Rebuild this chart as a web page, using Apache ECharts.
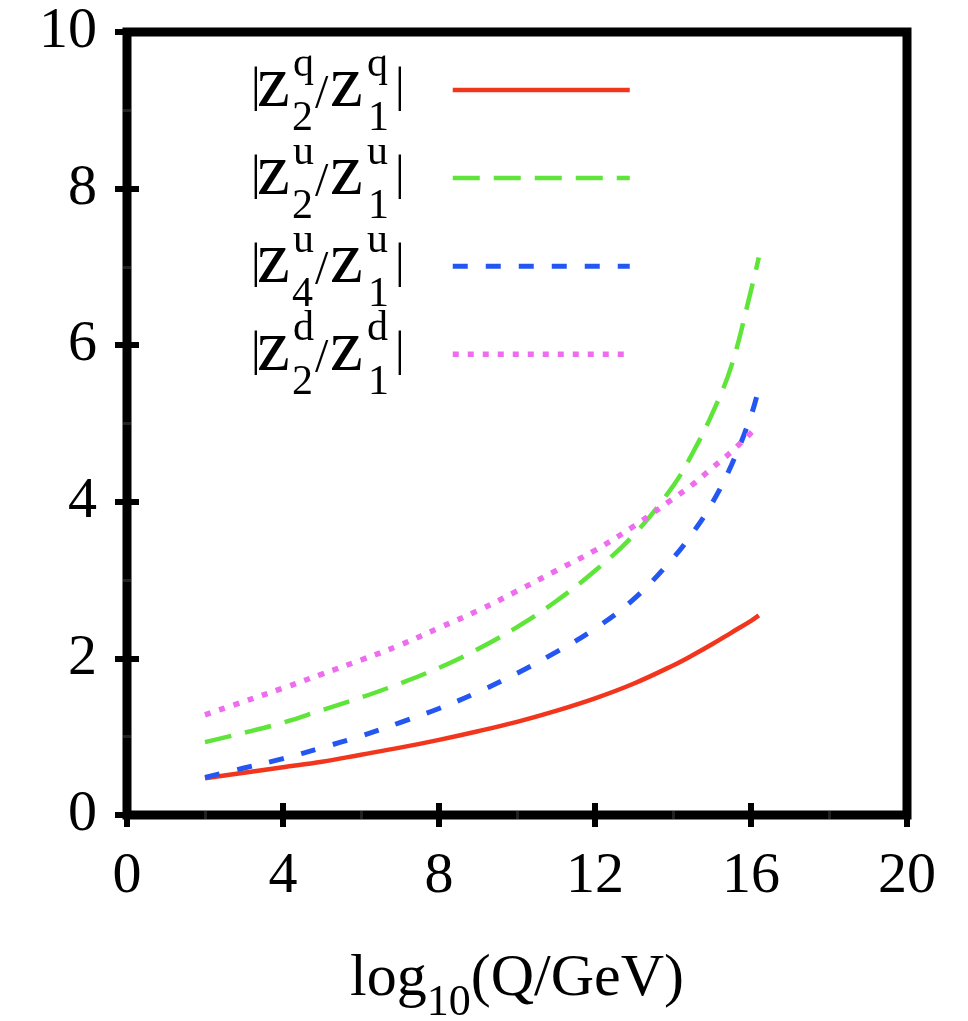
<!DOCTYPE html>
<html>
<head>
<meta charset="utf-8">
<script src="https://cdn.jsdelivr.net/npm/echarts@6/dist/echarts.min.js"></script>
<style>html,body{margin:0;padding:0;background:#fff}#c{width:968px;height:1021px}</style>
</head>
<body>
<div id="c"></div>
<script>
// ---- data ----
var xs        = [2, 3, 4, 5, 6, 7, 8, 9, 10, 11, 12, 13, 14, 14.5, 15, 15.5, 16, 16.2];
var zq21      = [0.47, 0.54, 0.61, 0.68, 0.77, 0.86, 0.96, 1.07, 1.19, 1.33, 1.49, 1.68, 1.91, 2.04, 2.18, 2.33, 2.48, 2.55];
var zu21      = [0.93, 1.05, 1.18, 1.34, 1.50, 1.68, 1.88, 2.12, 2.40, 2.73, 3.12, 3.58, 4.20, 4.62, 5.12, 5.74, 6.70, 7.12];
var zu41      = [0.48, 0.60, 0.72, 0.86, 1.01, 1.18, 1.36, 1.57, 1.81, 2.08, 2.38, 2.76, 3.28, 3.60, 3.98, 4.47, 5.10, 5.45];
var zd21      = [1.28, 1.45, 1.62, 1.80, 1.98, 2.17, 2.39, 2.61, 2.86, 3.12, 3.38, 3.69, 4.04, 4.22, 4.43, 4.64, 4.88, 4.97];
var xTicks    = [0, 4, 8, 12, 16, 20];
var yTicks    = [0, 2, 4, 6, 8, 10];
var seriesNames = ['|z2q/z1q|', '|z2u/z1u|', '|z4u/z1u|', '|z2d/z1d|'];
// legend text pieces: [supLeft, subLeft, supRight, subRight]
var legendParts = [['q','2','q','1'], ['u','2','u','1'], ['u','4','u','1'], ['d','2','d','1']];
var xTitle    = ['log', '10', '(Q/GeV)'];

function pairs(ys){ return xs.map(function(x,i){ return [x, ys[i]]; }); }

var FONT = '"Liberation Serif","Times New Roman",serif';
var colors = ['#f2361e', '#5fe43a', '#2457f2', '#ee6cee'];
var dashes = ['solid', [27, 14], [15, 18], [6, 9]];
var widths = [4.5, 4.5, 5, 5.5];

var rowC = [90, 178, 266, 354];

function txt(str, x, base, size){
  return { type:'text', silent:true, z:100,
    style:{ text:str, x:x, y: base - 0.3375*size, font: size+'px '+FONT,
            fill:'#000', align:'left', verticalAlign:'middle' } };
}

var graphics = [];
legendParts.forEach(function(p, i){
  var c = rowC[i];
  graphics.push(txt('|', 251, c + 15, 48));
  graphics.push(txt('z', 257, c + 22, 74));
  graphics.push(txt(p[0], 293, c - 11, 42));
  graphics.push(txt(p[1], 292, c + 43, 42));
  graphics.push(txt('/', 315, c + 22, 48));
  graphics.push(txt('z', 330, c + 22, 74));
  graphics.push(txt(p[2], 367, c - 11, 42));
  graphics.push(txt(p[3], 368, c + 43, 42));
  graphics.push(txt('|', 395, c + 15, 48));
});

var series = [zq21, zu21, zu41, zd21].map(function(ys, i){
  return { name: seriesNames[i], type:'line', data: pairs(ys), symbol:'none', showSymbol:false,
    smooth: 0.4, xAxisIndex:0, yAxisIndex:0,
    lineStyle:{ color: colors[i], width: widths[i], type: dashes[i], cap:'butt' },
    itemStyle:{ color: colors[i] }, z: 3 };
});

var tickCommon = { inside:true, length:12, lineStyle:{ color:'#000', width:6 } };
var minorCommon = { show:true, splitNumber:2, length:4, lineStyle:{ color:'#222', width:3 } };
var labelCommon = { fontSize:58, fontFamily:FONT, color:'#000' };

var chart = echarts.init(document.getElementById('c'), null, {renderer:'canvas'});
chart.setOption({
  animation:false,
  backgroundColor:'#fff',
  grid:{ left:127, right:61, top:32, bottom:206, outerBoundsMode:'none', containLabel:false,
    show:true, borderColor:'#000', borderWidth:9, backgroundColor:'transparent' },
  legend:{ show:true, orient:'vertical', left:450, top:83, padding:0, itemWidth:177, itemHeight:14, itemGap:75.5,
    selectedMode:false, data: seriesNames, formatter: function(){ return ''; }, textStyle:{ fontSize:1 },
    itemStyle:{ opacity:0 }, lineStyle:{ width:'inherit' } },
  xAxis:[
    { type:'value', position:'bottom', min:0, max:20, interval:4,
      axisLine:{ show:false }, axisTick: tickCommon, minorTick: minorCommon, splitLine:{show:false},
      axisLabel: Object.assign({ margin:33, formatter:function(v){ return xTicks.indexOf(v)>=0 ? String(v) : ''; } }, labelCommon),
      name: '{a|'+xTitle[0]+'}{b|'+xTitle[1]+'}{a|'+xTitle[2]+'}', nameLocation:'middle', nameGap:134,
      nameTextStyle:{ rich:{
        a:{ fontSize:60, fontFamily:FONT, color:'#000', lineHeight:62, verticalAlign:'top' },
        b:{ fontSize:44, fontFamily:FONT, color:'#000', lineHeight:44, verticalAlign:'top', padding:[32,0,0,0] } } } },
    { type:'value', position:'top', min:0, max:20, interval:4,
      axisLine:{ show:false }, axisTick: tickCommon, minorTick: minorCommon, splitLine:{show:false},
      axisLabel:{ show:false } }
  ],
  yAxis:[
    { type:'value', position:'left', min:0, max:10, interval:2,
      axisLine:{ show:false }, axisTick: tickCommon, minorTick: minorCommon, splitLine:{show:false},
      axisLabel: Object.assign({ margin:30, formatter:function(v){ return yTicks.indexOf(v)>=0 ? String(v) : ''; } }, labelCommon) },
    { type:'value', position:'right', min:0, max:10, interval:2,
      axisLine:{ show:false }, axisTick: tickCommon, minorTick: minorCommon, splitLine:{show:false},
      axisLabel:{ show:false } }
  ],
  series: series,
  graphic: graphics
});
</script>
</body>
</html>
